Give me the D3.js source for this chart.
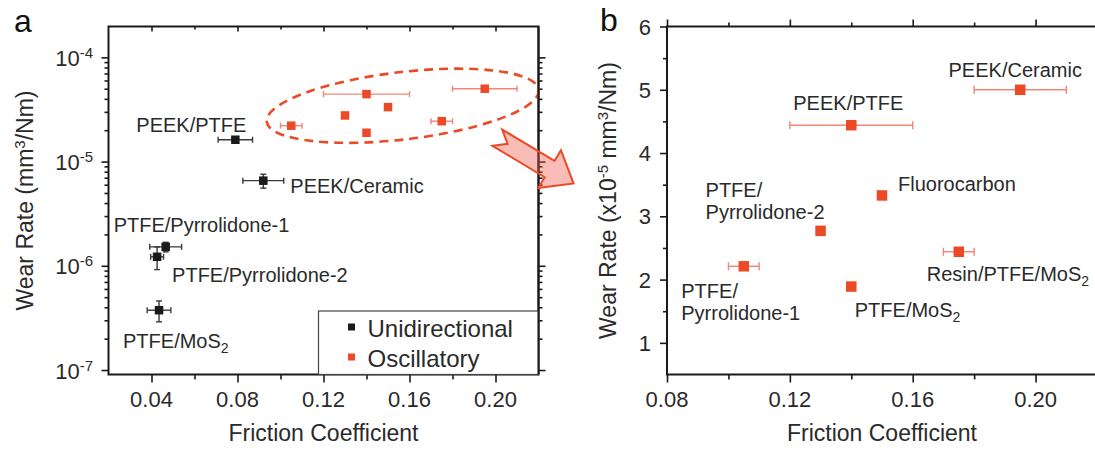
<!DOCTYPE html>
<html>
<head>
<meta charset="utf-8">
<script src="https://cdn.jsdelivr.net/npm/d3@7"></script>
<style>
	body { margin: 0; background: #fff; }
	svg text { font-family: "Liberation Sans", Arial, sans-serif; }
</style>
</head>
<body>
<div id="wrapper"></div>
<script>
// unidirectional tests (panel a, black)
const uniNames = ["PEEK/PTFE", "PEEK/Ceramic", "PTFE/Pyrrolidone-1", "PTFE/Pyrrolidone-2", "PTFE/MoS2"];
const uniFriction = [0.079, 0.092, 0.0466, 0.0426, 0.0435];
const uniFrictionErr = [0.008, 0.0095, 0.0074, 0.003, 0.0055];
const uniWear = [1.62e-5, 6.56e-6, 1.52e-6, 1.22e-6, 3.75e-7];
const uniWearErr = [0, 1.0e-6, 0.16e-6, 0.3e-6, 0.85e-7];

// oscillatory tests (both panels, red), wear rate in 1e-5 mm3/Nm
const oscNames = ["PEEK/Ceramic", "PEEK/PTFE", "Fluorocarbon", "PTFE/Pyrrolidone-2", "Resin/PTFE/MoS2", "PTFE/Pyrrolidone-1", "PTFE/MoS2"];
const oscFriction = [0.195, 0.14, 0.15, 0.13, 0.175, 0.105, 0.14];
const oscFrictionErr = [0.015, 0.02, 0, 0, 0.005, 0.005, 0];
const oscWear = [5.0, 4.44, 3.33, 2.77, 2.44, 2.21, 1.89];

const xTicksA = [0.04, 0.08, 0.12, 0.16, 0.20];
const xMinorA = [0.06, 0.10, 0.14, 0.18];
const yDecadesA = [1e-7, 1e-6, 1e-5, 1e-4];
const xTicksB = [0.08, 0.12, 0.16, 0.20];
const xMinorB = [0.10, 0.14, 0.18];
const yTicksB = [1, 2, 3, 4, 5, 6];
const yMinorB = [1.5, 2.5, 3.5, 4.5, 5.5];

const legendLabels = ["Unidirectional", "Oscillatory"];

const red = "#ec4a26";
const redErr = "#f28576";
const black = "#1a1a1a";
const textCol = "#2a2a2a";

const W = 1095, H = 450;
const plotTop = 26.5, plotBottom = 374.5;

const svg = d3.select("#wrapper").append("svg")
	.attr("width", W)
	.attr("height", H);

const xA = d3.scaleLinear().domain([0.02, 0.22]).range([108.5, 538.5]);
const yA = d3.scaleLog().domain([9.06e-8, 1.977e-4]).range([plotBottom, plotTop]);
const xB = d3.scaleLinear().domain([0.08, 0.22]).range([667, 1097]);
const yB = d3.scaleLinear().domain([0.5, 6]).range([plotBottom, plotTop]);

const yMinorA = yA.ticks().filter(d => !yDecadesA.some(v => Math.abs(v - d) / v < 1e-6));

function addTicks(gen, tx, ty){
	const g = svg.append("g")
		.attr("transform", `translate(${tx},${ty})`)
		.call(gen);
	g.select(".domain").remove();
	g.selectAll("text").remove();
	g.selectAll("line").attr("stroke", black).attr("stroke-width", 1.6);
	return g;
}

// ---------- panel a ----------
addTicks(d3.axisBottom(xA).tickValues(xTicksA).tickSize(8), 0, plotBottom);
addTicks(d3.axisBottom(xA).tickValues(xMinorA).tickSize(5), 0, plotBottom);
addTicks(d3.axisBottom(xA).tickValues(xTicksA).tickSize(5), 0, plotTop);
addTicks(d3.axisBottom(xA).tickValues(xMinorA).tickSize(3), 0, plotTop);
addTicks(d3.axisLeft(yA).tickValues(yDecadesA).tickSize(7), xA.range()[0], 0);
addTicks(d3.axisLeft(yA).tickValues(yMinorA).tickSize(4), xA.range()[0], 0);
addTicks(d3.axisRight(yA).tickValues(yDecadesA).tickSize(7), xA.range()[1], 0);
addTicks(d3.axisRight(yA).tickValues(yMinorA).tickSize(4), xA.range()[1], 0);

svg.append("rect")
	.attr("x", xA.range()[0]).attr("y", plotTop)
	.attr("width", xA.range()[1] - xA.range()[0])
	.attr("height", plotBottom - plotTop)
	.attr("fill", "none").attr("stroke", black).attr("stroke-width", 2);

svg.append("g").selectAll("text")
	.data(xTicksA).join("text")
	.attr("x", d => xA(d)).attr("y", 407)
	.attr("text-anchor", "middle").attr("font-size", 22).attr("fill", textCol)
	.text(d => d.toFixed(2));

svg.append("g").selectAll("text")
	.data(yDecadesA).join("text")
	.attr("x", 93).attr("y", d => yA(d) + 8.5)
	.attr("text-anchor", "end").attr("font-size", 22).attr("fill", textCol)
	.each(function(d){
		const t = d3.select(this);
		t.append("tspan").text("10");
		t.append("tspan").attr("dy", -8).attr("font-size", 15).text(String(Math.round(Math.log10(d))));
	});

svg.append("text")
	.attr("x", (xA.range()[0] + xA.range()[1]) / 2).attr("y", 441)
	.attr("text-anchor", "middle").attr("font-size", 23).attr("fill", textCol)
	.text("Friction Coefficient");

const yTitleA = svg.append("text")
	.attr("transform", `translate(33,${(plotTop + plotBottom) / 2}) rotate(-90)`)
	.attr("text-anchor", "middle").attr("font-size", 23).attr("fill", textCol);
yTitleA.append("tspan").text("Wear Rate (mm");
yTitleA.append("tspan").attr("dy", -8).attr("font-size", 15).text("3");
yTitleA.append("tspan").attr("dy", 8).text("/Nm)");

svg.append("text").attr("x", 14).attr("y", 31.5)
	.attr("font-size", 32).attr("fill", "#111").text("a");

// dashed ellipse round the oscillatory group
const osLo = d3.min(oscFriction.map((d, i) => d - oscFrictionErr[i]));
const osHi = d3.max(oscFriction.map((d, i) => d + oscFrictionErr[i]));
const elCx = (xA(osLo) + xA(osHi)) / 2 + 4;
const elCy = (yA(d3.min(oscWear) * 1e-5) + yA(d3.max(oscWear) * 1e-5)) / 2 - 5;
const elRx = (xA(osHi) - xA(osLo)) / 2 + 18.7;
svg.append("ellipse")
	.attr("transform", `translate(${elCx},${elCy}) rotate(-6.7)`)
	.attr("rx", elRx).attr("ry", 33.7)
	.attr("fill", "none").attr("stroke", red)
	.attr("stroke-width", 2.6).attr("stroke-dasharray", "9 6");

function errorBars(g, xs, ys, xe, ye, xS, yS, col, cap){
	xs.forEach((x, i) => {
		if (xe[i] > 0){
			const x0 = xS(x - xe[i]), x1 = xS(x + xe[i]), yy = yS(ys[i]);
			g.append("line").attr("x1", x0).attr("x2", x1).attr("y1", yy).attr("y2", yy);
			g.append("line").attr("x1", x0).attr("x2", x0).attr("y1", yy - cap).attr("y2", yy + cap);
			g.append("line").attr("x1", x1).attr("x2", x1).attr("y1", yy - cap).attr("y2", yy + cap);
		}
		if (ye && ye[i] > 0){
			const y0 = yS(ys[i] - ye[i]), y1 = yS(ys[i] + ye[i]), xx = xS(x);
			g.append("line").attr("x1", xx).attr("x2", xx).attr("y1", y0).attr("y2", y1);
			g.append("line").attr("x1", xx - cap).attr("x2", xx + cap).attr("y1", y0).attr("y2", y0);
			g.append("line").attr("x1", xx - cap).attr("x2", xx + cap).attr("y1", y1).attr("y2", y1);
		}
	});
	g.selectAll("line").attr("stroke", col).attr("stroke-width", 1.4);
}

const oscWearAbs = oscWear.map(d => d * 1e-5);

errorBars(svg.append("g"), uniFriction, uniWear, uniFrictionErr, uniWearErr, xA, yA, "#3a3a3a", 3);
errorBars(svg.append("g"), oscFriction, oscWearAbs, oscFrictionErr, null, xA, yA, redErr, 3);

const sqA = 8.5;
svg.append("g").selectAll("rect")
	.data(uniFriction).join("rect")
	.attr("x", d => xA(d) - sqA / 2)
	.attr("y", (d, i) => yA(uniWear[i]) - sqA / 2)
	.attr("width", sqA).attr("height", sqA)
	.attr("fill", black);
svg.append("g").selectAll("rect")
	.data(oscFriction).join("rect")
	.attr("x", d => xA(d) - sqA / 2)
	.attr("y", (d, i) => yA(oscWearAbs[i]) - sqA / 2)
	.attr("width", sqA).attr("height", sqA)
	.attr("fill", red);

// label offsets from their points (px)
const labelPosA = {
	"PEEK/PTFE": [11, -8, "end"],
	"PEEK/Ceramic": [27, 12, "start"],
	"PTFE/Pyrrolidone-1": [-52, -15, "start"],
	"PTFE/Pyrrolidone-2": [15, 25, "start"],
	"PTFE/MoS2": [-36, 38, "start"]
};

function addLabel(g, txt, x, y, anchor){
	const t = g.append("text")
		.attr("x", x).attr("y", y)
		.attr("text-anchor", anchor)
		.attr("font-size", 20).attr("fill", textCol);
	if (txt.endsWith("MoS2")){
		t.append("tspan").text(txt.slice(0, -1));
		t.append("tspan").attr("dy", 5).attr("font-size", 14).text("2");
	} else {
		t.text(txt);
	}
}

const labA = svg.append("g");
uniNames.forEach((n, i) => {
	const p = labelPosA[n];
	addLabel(labA, n, xA(uniFriction[i]) + p[0], yA(uniWear[i]) + p[1], p[2]);
});

// legend
const legX = 318.5, legY = 311;
svg.append("rect")
	.attr("x", legX).attr("y", legY)
	.attr("width", xA.range()[1] - legX)
	.attr("height", plotBottom - legY)
	.attr("fill", "#fff").attr("stroke", "#444").attr("stroke-width", 1.2);
const leg = svg.append("g").selectAll("g")
	.data(legendLabels).join("g")
	.attr("transform", (d, i) => `translate(${legX + 33},${legY + 16 + i * 30})`);
leg.append("rect")
	.attr("x", -3.5).attr("y", -3.5).attr("width", 7).attr("height", 7)
	.attr("fill", (d, i) => i === 0 ? black : red);
leg.append("text")
	.attr("x", 16).attr("y", 9.5)
	.attr("font-size", 24).attr("fill", textCol)
	.text(d => d);

// redraw right frame line above legend
svg.append("line")
	.attr("x1", xA.range()[1]).attr("x2", xA.range()[1])
	.attr("y1", plotTop).attr("y2", plotBottom)
	.attr("stroke", black).attr("stroke-width", 2);

// arrow from the ellipse to panel b
const arrowPts = [[-4, -9.5], [57, -9.5], [57, -22], [85, 0], [57, 22], [57, 9.5], [-4, 9.5], [8, 0]];
svg.append("polygon")
	.attr("transform", `translate(${elCx + 98},${elCy + 34}) rotate(31)`)
	.attr("points", arrowPts.map(p => p.join(",")).join(" "))
	.attr("fill", "#ee5a48").attr("fill-opacity", 0.4)
	.attr("stroke", red).attr("stroke-width", 2).attr("stroke-linejoin", "miter");

// ---------- panel b ----------
addTicks(d3.axisBottom(xB).tickValues(xTicksB).tickSize(8), 0, plotBottom);
addTicks(d3.axisBottom(xB).tickValues(xMinorB).tickSize(5), 0, plotBottom);
addTicks(d3.axisTop(xB).tickValues(xTicksB).tickSize(7), 0, plotTop);
addTicks(d3.axisTop(xB).tickValues(xMinorB).tickSize(4), 0, plotTop);
addTicks(d3.axisLeft(yB).tickValues(yTicksB).tickSize(7), xB.range()[0], 0);
addTicks(d3.axisLeft(yB).tickValues(yMinorB).tickSize(4), xB.range()[0], 0);

svg.append("rect")
	.attr("x", xB.range()[0]).attr("y", plotTop)
	.attr("width", xB.range()[1] - xB.range()[0])
	.attr("height", plotBottom - plotTop)
	.attr("fill", "none").attr("stroke", black).attr("stroke-width", 2);

svg.append("g").selectAll("text")
	.data(xTicksB).join("text")
	.attr("x", d => xB(d)).attr("y", 407)
	.attr("text-anchor", "middle").attr("font-size", 22).attr("fill", textCol)
	.text(d => d.toFixed(2));

svg.append("g").selectAll("text")
	.data(yTicksB).join("text")
	.attr("x", 651).attr("y", d => yB(d) + 8)
	.attr("text-anchor", "end").attr("font-size", 22).attr("fill", textCol)
	.text(d => d);

svg.append("text")
	.attr("x", 882).attr("y", 441)
	.attr("text-anchor", "middle").attr("font-size", 23).attr("fill", textCol)
	.text("Friction Coefficient");

const yTitleB = svg.append("text")
	.attr("transform", `translate(616,${(plotTop + plotBottom) / 2}) rotate(-90)`)
	.attr("text-anchor", "middle").attr("font-size", 23).attr("fill", textCol);
yTitleB.append("tspan").text("Wear Rate (x10");
yTitleB.append("tspan").attr("dy", -8).attr("font-size", 15).text("-5");
yTitleB.append("tspan").attr("dy", 8).text(" mm");
yTitleB.append("tspan").attr("dy", -8).attr("font-size", 15).text("3");
yTitleB.append("tspan").attr("dy", 8).text("/Nm)");

svg.append("text").attr("x", 600).attr("y", 31)
	.attr("font-size", 32).attr("fill", "#111").text("b");

errorBars(svg.append("g"), oscFriction, oscWear, oscFrictionErr, null, xB, yB, redErr, 4);

const sqB = 10.5;
svg.append("g").selectAll("rect")
	.data(oscFriction).join("rect")
	.attr("x", d => xB(d) - sqB / 2)
	.attr("y", (d, i) => yB(oscWear[i]) - sqB / 2)
	.attr("width", sqB).attr("height", sqB)
	.attr("fill", red);

// label lines and offsets from their points (px)
const labelPosB = {
	"PEEK/Ceramic": [["PEEK/Ceramic"], -5, -13, "middle"],
	"PEEK/PTFE": [["PEEK/PTFE"], -3, -15, "middle"],
	"Fluorocarbon": [["Fluorocarbon"], 16, -4.5, "start"],
	"PTFE/Pyrrolidone-2": [["PTFE/", "Pyrrolidone-2"], -115, -34, "start"],
	"Resin/PTFE/MoS2": [["Resin/PTFE/MoS2"], -32, 29, "start"],
	"PTFE/Pyrrolidone-1": [["PTFE/", "Pyrrolidone-1"], -62.5, 32, "start"],
	"PTFE/MoS2": [["PTFE/MoS2"], 3.5, 30.5, "start"]
};

const labB = svg.append("g");
oscNames.forEach((n, i) => {
	const p = labelPosB[n];
	p[0].forEach((line, j) => {
		addLabel(labB, line, xB(oscFriction[i]) + p[1], yB(oscWear[i]) + p[2] + j * 22, p[3]);
	});
});
</script>
</body>
</html>
